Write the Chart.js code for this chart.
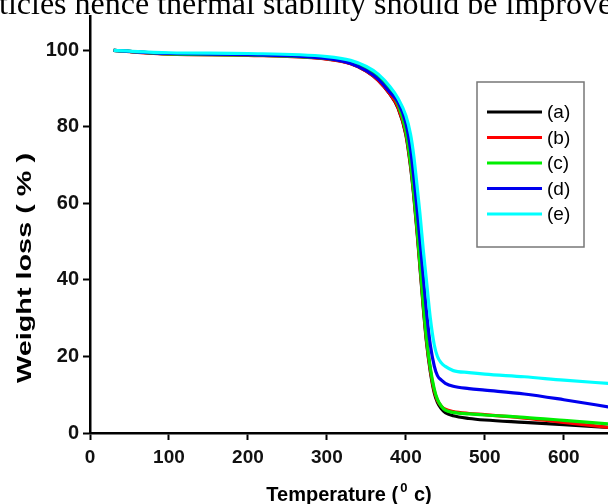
<!DOCTYPE html>
<html>
<head>
<meta charset="utf-8">
<script src="https://cdn.jsdelivr.net/npm/chart.js@4.4.1/dist/chart.umd.min.js"></script>
<style>
  html, body { margin: 0; padding: 0; background: #fff; overflow: hidden; }
  #wrap { width: 608px; height: 504px; position: relative; }
</style>
</head>
<body>
<div id="wrap"><canvas id="tgaChart"></canvas></div>
<script>
// temperatures (deg C) shared by all curves
const temps = [30, 100, 200, 300, 330, 350, 365, 380, 390, 400, 406, 410, 414, 418, 422, 426, 431, 436, 440, 445, 450, 460, 480, 500, 550, 600, 660];

// weight (%) for each sample
const sampleA = [100, 99.1, 98.8, 97.8, 96.6, 94.6, 92.2, 88.5, 85, 78, 69.5, 62, 53, 43, 33, 24, 16, 10.5, 8, 6.3, 5.3, 4.5, 3.8, 3.4, 2.8, 2.2, 1.4];
const sampleB = [100, 99.0, 98.7, 97.7, 96.5, 94.6, 92.2, 88.6, 85.2, 78.3, 70, 62.5, 53.5, 43.5, 33.5, 24.5, 16.5, 11, 8.5, 7, 6.2, 5.6, 5.1, 4.8, 3.9, 2.8, 1.4];
const sampleC = [100, 99.1, 98.8, 97.9, 96.9, 95.2, 93, 89.5, 86, 79, 70.5, 63, 54, 44, 34, 25, 17, 11.5, 8.8, 7, 6, 5.4, 5, 4.7, 4.1, 3.3, 2.3];
const sampleD = [100, 99.2, 98.9, 97.9, 96.6, 94.7, 92.5, 89, 86.5, 81, 74, 67, 59, 50, 41, 32, 23, 17.5, 15, 13.8, 13, 12.2, 11.6, 11.2, 10.2, 8.7, 6.7];
const sampleE = [100, 99.4, 99.2, 98.4, 97.4, 95.8, 93.8, 90.5, 87.5, 83, 78, 72.5, 65, 57, 48, 40, 30, 23, 20, 18.3, 17.4, 16.3, 15.8, 15.4, 14.7, 13.8, 12.9];

const seriesNames = ['(a)', '(b)', '(c)', '(d)', '(e)'];
const seriesColors = ['#000000', '#ff0000', '#00ee00', '#0000ee', '#00ffff'];
const xTickLabels = [0, 100, 200, 300, 400, 500, 600];
const yTickLabels = [0, 20, 40, 60, 80, 100];

const allSeries = [sampleA, sampleB, sampleC, sampleD, sampleE];

const datasets = allSeries.map((vals, i) => ({
    label: seriesNames[i],
    data: vals.map((v, j) => ({ x: temps[j], y: v })),
    borderColor: seriesColors[i],
    borderWidth: 3.2,
    pointRadius: 0,
    fill: false,
    cubicInterpolationMode: 'monotone',
    order: 5 - i // cyan drawn on top
}));

const boldFont = (px) => 'bold ' + px + 'px Arial, "Liberation Sans", sans-serif';

// text that the chart library can't place the way the figure does
const extras = {
    id: 'extras',
    afterDraw(chart) {
        const c = chart.ctx;
        c.save();
        // cropped caption line at the top of the figure
        c.fillStyle = '#000';
        c.font = '32px "Liberation Serif", "Times New Roman", serif';
        c.textBaseline = 'alphabetic';
        c.textAlign = 'left';
        c.fillText('ticles hence thermal stability should be improve', -1, 14);

        // x title with superscript
        c.font = boldFont(20);
        const p1 = 'Temperature (';
        const p3 = ' c)';
        const w1 = c.measureText(p1).width;
        const w3 = c.measureText(p3).width;
        c.font = boldFont(13);
        const w2 = c.measureText('0').width + 3;
        const total = w1 + w2 + w3;
        let x = 349 - total / 2;
        c.font = boldFont(20);
        c.fillText(p1, x, 501);
        c.font = boldFont(13);
        c.fillText('0', x + w1 + 2, 492);
        c.font = boldFont(20);
        c.fillText(p3, x + w1 + w2, 501);

        // y title, stretched along its length like the figure
        c.save();
        c.translate(31, 268);
        c.rotate(-Math.PI / 2);
        c.textAlign = 'center';
        c.font = boldFont(21);
        const wt = c.measureText('Weight loss ( % )').width;
        c.scale(230 / wt, 1);
        c.fillText('Weight loss ( % )', 0, 0);
        c.restore();

        // legend box
        c.strokeStyle = '#777';
        c.lineWidth = 1.5;
        c.strokeRect(477, 82, 107, 165);
        c.font = '19px Arial, "Liberation Sans", sans-serif';
        c.textBaseline = 'middle';
        chart.data.datasets.forEach((ds, i) => {
            const y = 112 + i * 25.5;
            c.strokeStyle = ds.borderColor;
            c.lineWidth = 3;
            c.beginPath();
            c.moveTo(487, y);
            c.lineTo(542, y);
            c.stroke();
            c.fillStyle = '#000';
            c.fillText(ds.label, 547, y + 1);
        });
        c.restore();
    }
};

const ctx = document.getElementById('tgaChart').getContext('2d');
const tgaChart = new Chart(ctx, {
    type: 'line',
    data: { datasets: datasets },
    options: {
        responsive: true,
        maintainAspectRatio: false,
        animation: false,
        layout: { padding: { top: 13, right: 0, left: 0, bottom: 0 } },
        plugins: {
            legend: { display: false },
            tooltip: { enabled: false }
        },
        scales: {
            x: {
                type: 'linear',
                min: 0,
                max: 656,
                afterFit: (s) => { s.height = 71; },
                afterBuildTicks: (s) => { s.ticks = xTickLabels.map(v => ({ value: v })); },
                ticks: {
                    padding: 6,
                    color: '#111',
                    font: { family: 'Arial, "Liberation Sans", sans-serif', size: 19, weight: 'bold' },
                    maxRotation: 0
                },
                grid: { drawOnChartArea: false, drawTicks: true, tickLength: 7, tickWidth: 2, tickColor: '#000' },
                border: { display: true, color: '#000', width: 2.5 }
            },
            y: {
                min: 0,
                max: 109,
                afterFit: (s) => { s.width = 90; },
                afterBuildTicks: (s) => { s.ticks = yTickLabels.map(v => ({ value: v })); },
                ticks: {
                    padding: 4,
                    color: '#111',
                    font: { family: 'Arial, "Liberation Sans", sans-serif', size: 20, weight: 'bold' }
                },
                grid: { drawOnChartArea: false, drawTicks: true, tickLength: 7, tickWidth: 2, tickColor: '#000' },
                border: { display: true, color: '#000', width: 2.5 }
            }
        }
    },
    plugins: [extras]
});
</script>
</body>
</html>
